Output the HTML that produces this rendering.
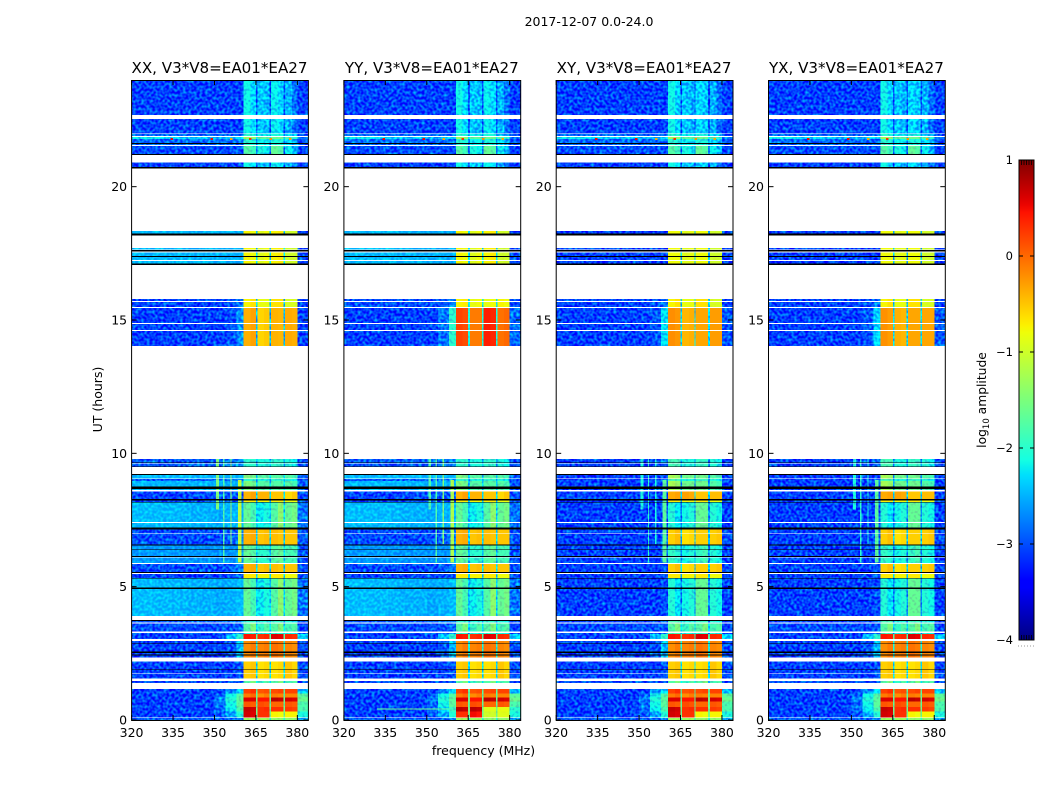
<!DOCTYPE html>
<html lang="en">
<head>
<meta charset="utf-8">
<title>2017-12-07 0.0-24.0</title>
<style>
html,body{margin:0;padding:0;background:#fff;width:1050px;height:800px;overflow:hidden}
svg{display:block}
text{font-family:"DejaVu Sans","Liberation Sans",sans-serif;fill:#000}
</style>
</head>
<body>
<svg id="fig" xmlns="http://www.w3.org/2000/svg" width="1050" height="800" viewBox="0 0 1050 800">
  <defs>
    <filter id="speckle" filterUnits="userSpaceOnUse" x="0" y="0" width="1050" height="800" color-interpolation-filters="sRGB">
      <feTurbulence type="fractalNoise" baseFrequency="0.36" numOctaves="1" seed="7" result="n"/>
      <feColorMatrix in="n" type="matrix" values="0 0 0 0 0  1.5 0 0 0 -0.5  0 0 0 0 0  0 0 0 0 1" result="g"/>
      <feColorMatrix in="SourceGraphic" type="matrix" values="1 0 0 0 0  0 1 -0.25 0 0  0 0 1 0 0  0 0 0 1 0" result="base"/>
      <feColorMatrix in="SourceGraphic" type="matrix" values="0 0 0 0 0  0 0 1 0 0  0 0 0 0 0  0 0 0 0 1" result="mask"/>
      <feComposite in="g" in2="mask" operator="arithmetic" k1="1" k2="0" k3="0" k4="0" result="add"/>
      <feComposite in="base" in2="add" operator="arithmetic" k1="0" k2="1" k3="1" k4="0" result="sum"/>
      <feComposite in="sum" in2="SourceAlpha" operator="in"/>
    </filter>
    <filter id="speckle-soft" filterUnits="userSpaceOnUse" x="0" y="0" width="1050" height="800" color-interpolation-filters="sRGB">
      <feTurbulence type="fractalNoise" baseFrequency="0.36" numOctaves="1" seed="11" result="n"/>
      <feColorMatrix in="n" type="matrix" values="0 0 0 0 0  0.7 0 0 0 -0.25  0 0 0 0 0  0 0 0 0 1" result="g"/>
      <feColorMatrix in="SourceGraphic" type="matrix" values="1 0 0 0 0  0 1 -0.1 0 0  0 0 1 0 0  0 0 0 1 0" result="base"/>
      <feComposite in="base" in2="g" operator="arithmetic" k1="0" k2="1" k3="1" k4="0" result="sum"/>
      <feComposite in="sum" in2="SourceAlpha" operator="in"/>
    </filter>
    <linearGradient id="cb-gradient" x1="0" y1="1" x2="0" y2="0"></linearGradient>
  </defs>
  <rect x="0" y="0" width="1050" height="800" fill="#fff"/>
  <text x="589" y="26" font-size="12.5" text-anchor="middle">2017-12-07 0.0-24.0</text>
  <text x="483.5" y="755" font-size="12.5" text-anchor="middle">frequency (MHz)</text>
  <text transform="translate(102,399.5) rotate(-90)" font-size="12.5" text-anchor="middle">UT (hours)</text>
  <text transform="translate(986,400) rotate(-90)" font-size="12.3" text-anchor="middle">log<tspan font-size="8.5" dy="3">10</tspan><tspan dy="-3"> amplitude</tspan></text>
  <g id="panels"></g>
  <g id="colorbar"></g>
</svg>
<script>
// ---- chart data (log10 amplitude, frequency in MHz, time in UT hours) ----
const freqEdges = [320,330,340,350,354,358,360.5,363,365,365.6,368,370,370.5,373,375,375.6,378,380,384];
const freqTicks = [320,335,350,365,380];
const timeTicks = [0,5,10,15,20];
const colorTicks = [1,0,-1,-2,-3,-4];
const panelTitles = ['XX, V3*V8=EA01*EA27','YY, V3*V8=EA01*EA27','XY, V3*V8=EA01*EA27','YX, V3*V8=EA01*EA27'];

const timeEdges = [24,22.69,22.54,21.99,21.98,21.90,21.87,21.79,21.63,21.60,21.56,21.53,21.23,21.18,20.90,20.73,20.69,
  18.34,18.25,18.16,17.70,17.65,17.63,17.56,17.54,17.40,17.37,17.25,17.21,17.11,17.07,
  15.79,15.71,15.68,15.49,15.45,14.88,14.85,14.63,14.59,14.03,
  9.79,9.66,9.64,9.61,9.51,9.49,9.23,9.19,9.06,9.03,8.97,8.75,8.67,8.63,8.56,8.28,8.24,8.18,8.15,
  7.43,7.39,7.21,7.15,7.00,6.98,6.59,6.55,6.40,6.38,6.15,6.12,6.10,5.89,5.85,5.55,5.51,5.48,5.33,5.30,4.96,4.92,
  3.90,3.75,3.71,3.65,3.61,3.31,3.27,3.22,3.03,2.97,2.87,2.85,2.56,2.52,2.46,2.42,2.35,2.20,1.90,1.88,1.75,1.73,1.55,1.47,1.38,
  1.16,1.00,0.85,0.69,0.48,0.32,0.10,0.07,0];

// spectrum label of each time row; "_" = no data (white), "k" = zeroed (black)
const rowSpectra = ['q','_','q','_','s','_','f','s','k','s','_','p','k','_','q','k','_',
  'c','k','_','c','_','k','_','c','k','c','_','c','k','_',
  'b','_','b','_','o','_','o','_','o','_',
  'v','k','_','v','k','_','k','w','_','v','w','k','w','_','h','k','n','k','u',
  '_','u','k','y','_','y','k','g','k','g','k','_','g','_','y','k','_','n','k','u','k','u',
  '_','k','v','_','m','_','v','r','_','a','k','a','k','a','k','a','_','e','k','e','_','e','_','m','_',
  'z1','z2','z3','z4','z5','z6','_','l'];

// rows whose low-frequency part is a smooth, high-amplitude continuum in the parallel hands
const smoothRows = ['u','w','c','g'];

const xxSpectra = {
  q:[-3.05,-3.05,-3.05,-3.05,-3.05,-3.05,-2.15,-2.3,-2.95,-2.4,-2.45,-3,-2.2,-2.3,-2.95,-2.5,-2.8,-3.1],
  p:[-3,-3,-3,-3,-3,-3,-1.75,-1.9,-2.85,-2.1,-2.2,-2.9,-1.65,-1.75,-2.85,-2.2,-2.5,-3.1],
  s:[-2.85,-2.85,-2.85,-2.85,-2.85,-2.85,-2,-2.1,-2.7,-2.2,-2.2,-2.7,-2.1,-2.1,-2.7,-2.3,-2.5,-3],
  f:[-2.2,-2.3,-2.4,-2.5,-2.4,-2.3,-1.3,-1.4,-2.2,-1.7,-1.7,-2.2,-1.6,-1.6,-2.2,-1.8,-2,-2.8],
  c:[-2.46,-2.46,-2.48,-2.5,-2.52,-2.52,-0.75,-0.8,-2.3,-0.9,-0.8,-2.3,-0.75,-0.7,-2.3,-1,-1,-3],
  b:[-3.05,-3.05,-3.05,-3.05,-3,-2.85,-0.75,-0.65,-2.4,-0.85,-0.85,-2.4,-0.65,-0.65,-2.4,-0.95,-0.95,-3.1],
  o:[-3.1,-3.1,-3.1,-3.1,-3,-2.65,-0.38,-0.3,-2.5,-0.58,-0.52,-2.5,-0.4,-0.42,-2.5,-0.35,-0.38,-3.05],
  v:[-2.95,-2.95,-2.9,-2.85,-2.75,-2.65,-2,-2,-2.6,-2.1,-2.1,-2.6,-2,-2,-2.6,-2.1,-2.2,-3],
  w:[-2.46,-2.46,-2.48,-2.52,-2.52,-2.44,-1.5,-1.6,-2.4,-1.75,-1.75,-2.4,-1.75,-1.75,-2.4,-1.75,-1.85,-2.95],
  h:[-3.05,-3.05,-3,-2.95,-2.95,-2.95,-0.4,-0.3,-2.3,-0.4,-0.4,-2.3,-0.5,-0.5,-2.3,-0.6,-0.5,-3],
  n:[-3.1,-3.1,-3.1,-3.1,-3.1,-2.95,-0.7,-0.7,-2.3,-0.75,-0.75,-2.3,-0.7,-0.7,-2.3,-0.8,-0.8,-3],
  u:[-2.44,-2.46,-2.5,-2.54,-2.5,-2.44,-1.65,-1.85,-2.45,-2.2,-2.1,-2.35,-1.75,-1.4,-2.35,-1.65,-1.55,-2.8],
  y:[-3,-3,-3,-3,-2.9,-2.75,-0.4,-0.35,-2.3,-0.5,-0.45,-2.3,-0.45,-0.5,-2.3,-0.5,-0.5,-2.95],
  g:[-2.62,-2.62,-2.64,-2.66,-2.64,-2.58,-1.65,-1.75,-2.45,-2,-2,-2.45,-1.75,-1.65,-2.45,-1.85,-1.85,-2.95],
  m:[-3,-3,-3,-3,-3,-2.95,-1.75,-1.5,-2.3,-1.95,-1.75,-2.3,-1.75,-1.5,-2.3,-1.85,-1.75,-3.1],
  r:[-3.1,-3.1,-3.1,-3.05,-2.4,-2,0.45,0.4,-1.7,0.3,0.35,-1.7,0.6,0.55,-1.7,0.35,0.3,-2.3],
  a:[-3.2,-3.2,-3.2,-3.1,-2.95,-2.45,-0.2,-0.1,-2.1,-0.15,-0.1,-2.1,-0.05,-0.1,-2.1,-0.15,-0.2,-3],
  e:[-3.1,-3.1,-3.1,-3.1,-3.1,-2.95,-0.55,-0.5,-2.3,-0.65,-0.6,-2.3,-0.65,-0.6,-2.3,-0.5,-0.6,-3],
  z1:[-3.2,-3.2,-3.2,-3.05,-2.7,-2.3,0.2,0.3,-1.7,0.1,0.15,-1.7,0.15,0.2,-1.7,0.2,0.2,-2.4],
  z2:[-3.2,-3.2,-3.2,-2.85,-2.15,-1.75,-0.1,0,-1.75,-0.2,-0.1,-1.75,-0.1,-0.15,-1.75,-0.15,-0.15,-1.7],
  z3:[-3.15,-3.15,-3.15,-2.75,-2.05,-1.7,0.6,0.6,-1.6,0.45,0.45,-1.6,0.75,0.7,-1.6,0.65,0.6,-1.6],
  z4:[-3.15,-3.15,-3.15,-2.85,-2.15,-1.7,0.1,0.05,-1.7,0.15,0.1,-1.7,0,0,-1.7,0.1,0.05,-1.8],
  z5:[-3.15,-3.15,-3.15,-2.8,-2.2,-1.8,0.7,0.65,-1.6,0.3,0.35,-1.6,0.3,0.3,-1.6,0.25,0.2,-1.8],
  z6:[-3.15,-3.15,-3.15,-2.95,-2.55,-2.05,0.65,0.6,-1.6,0.3,0.3,-1.6,-0.75,-0.8,-1.6,-0.75,-0.75,-2.1],
  l:[-2.9,-2.9,-2.9,-2.9,-2.9,-2.75,-1.3,-1.3,-2.1,-1.3,-1.3,-2.1,-1.4,-1.4,-2.1,-1.4,-1.4,-2.6]
};
const yySpectra = Object.assign({}, xxSpectra, {
  o:[-3.1,-3.1,-3.1,-3.05,-2.8,-2,0.2,0.15,-2.1,-0.1,-0.1,-2.1,0.4,0.35,-2.1,-0.05,0,-2.85],
  b:[-3,-3,-3,-3,-2.95,-2.75,-0.75,-0.7,-2.2,-0.85,-0.8,-2.2,-0.85,-0.8,-2.2,-0.75,-0.8,-3],
  z5:[-3.15,-3.15,-3.15,-2.85,-2.3,-1.9,0.75,0.7,-1.6,0.75,0.7,-1.6,-0.9,-0.9,-1.6,-0.85,-0.85,-2],
  z6:[-3.15,-3.15,-3.15,-2.95,-2.55,-2.05,0.3,0.3,-1.6,0.5,0.45,-1.6,-1,-1,-1.6,-0.9,-0.9,-2.1]
});
const xySpectra = Object.assign({}, xxSpectra, {
  q:[-3.15,-3.15,-3.15,-3.15,-3.15,-3.1,-2.15,-2.35,-3,-2.4,-2.5,-3,-2.3,-2.4,-3,-2.5,-2.85,-3.15],
  c:[-3.4,-3.4,-3.4,-3.4,-3.35,-3.2,-0.8,-0.8,-2.5,-0.9,-0.85,-2.5,-0.8,-0.8,-2.5,-1,-1,-3.2],
  o:[-3.2,-3.2,-3.2,-3.15,-2.95,-2.25,-0.2,-0.25,-2.3,-0.42,-0.38,-2.3,-0.33,-0.33,-2.3,-0.28,-0.28,-2.95],
  v:[-3.2,-3.2,-3.2,-3.1,-3,-2.8,-1.85,-1.85,-2.7,-2.1,-2.1,-2.7,-1.95,-1.95,-2.7,-2.05,-2.2,-3.1],
  w:[-3.3,-3.3,-3.3,-3.25,-3.15,-3,-1.25,-1.35,-2.7,-1.6,-1.6,-2.7,-1.6,-1.6,-2.7,-1.75,-1.85,-3.1],
  u:[-3.15,-3.15,-3.15,-3.1,-3.1,-3,-2.05,-2.25,-2.8,-2.15,-2.05,-2.7,-1.65,-1.65,-2.7,-2.05,-2.15,-3.05],
  g:[-3.2,-3.2,-3.2,-3.15,-3.1,-3,-1.95,-2.05,-2.7,-2.15,-2.05,-2.7,-1.95,-1.85,-2.7,-2.05,-2.15,-3.1],
  y:[-3.2,-3.2,-3.2,-3.15,-3.1,-2.95,-0.55,-0.45,-2.4,-0.65,-0.6,-2.4,-0.55,-0.55,-2.4,-0.55,-0.5,-3],
  h:[-3.2,-3.2,-3.2,-3.1,-3.05,-3,-0.35,-0.3,-2.4,-0.3,-0.35,-2.4,-0.5,-0.5,-2.4,-0.45,-0.45,-3.1]
});
const yxSpectra = Object.assign({}, xySpectra, {
  o:[-3.2,-3.2,-3.2,-3.15,-2.95,-2.3,-0.22,-0.28,-2.3,-0.38,-0.42,-2.3,-0.33,-0.33,-2.3,-0.33,-0.33,-2.95]
});
const panelSpectra = [xxSpectra, yySpectra, xySpectra, yxSpectra];

// narrow interference lines: centre MHz, width MHz, UT start, UT end, value per panel
const rfiFreq  = [351.1,353.4,356,359.2];
const rfiWidth = [1.0,0.5,0.5,1.3];
const rfiStart = [7.9,5.9,6.6,5.9];
const rfiEnd   = [9.8,9.8,9.8,9.0];
const xxRfi = [-1.5,-1.8,-1.4,-1.1];
const yyRfi = [-1.8,-1.8,-1.5,-1.2];
const xyRfi = [-2.1,-2.0,-2.1,-1.7];
const yxRfi = [-2.1,-2.0,-2.1,-1.7];
const panelRfi = [xxRfi, yyRfi, xyRfi, yxRfi];

// isolated bright samples
const spikeFreq  = [334,348.5,355.7,362.5,370,377];
const spikeTime  = [21.83,21.83,21.83,21.83,21.83,21.83];
const spikeValue = [0.5,0.5,-0.3,0.3,-0.2,-0.3];

// horizontal line seen in the YY panel: MHz start, MHz end, UT, value
const yyLineStart = [332];
const yyLineEnd   = [358];
const yyLineTime  = [0.43];
const yyLineValue = [-1.6];

// ---- layout and scales ----
const NS = 'http://www.w3.org/2000/svg';
const panelLeft = [131.6,343.9,556.2,768.5];
const panelWidth = 176.8, plotTop = 80, plotBottom = 720;
const fMin = 320, fMax = 384, tMax = 24, cMin = -4, cMax = 1;
const cbX = 1019, cbW = 15, cbTop = 160, cbBottom = 640;

function xScale(i, f){ return panelLeft[i] + (f - fMin) / (fMax - fMin) * panelWidth; }
function yScale(t){ return plotBottom - t / tMax * (plotBottom - plotTop); }
function cbScale(v){ return cbBottom - (v - cMin) / (cMax - cMin) * (cbBottom - cbTop); }

const jetR = [[0,0],[0.35,0],[0.66,1],[0.89,1],[1,0.5]];
const jetG = [[0,0],[0.125,0],[0.375,1],[0.64,1],[0.91,0],[1,0]];
const jetB = [[0,0.5],[0.11,1],[0.34,1],[0.65,0],[1,0]];
function channel(stops, x){
  for (let i = 1; i < stops.length; i++) {
    if (x <= stops[i][0]) {
      const a = stops[i-1], b = stops[i];
      return a[1] + (b[1] - a[1]) * (x - a[0]) / (b[0] - a[0]);
    }
  }
  return stops[stops.length-1][1];
}
function colorOf(v){
  const x = Math.max(0, Math.min(1, (v - cMin) / (cMax - cMin)));
  return 'rgb(' + Math.round(channel(jetR,x)*255) + ',' + Math.round(channel(jetG,x)*255) + ',' + Math.round(channel(jetB,x)*255) + ')';
}
function make(tag, attrs, parent){
  const el = document.createElementNS(NS, tag);
  for (const k in attrs) el.setAttribute(k, attrs[k]);
  parent.appendChild(el);
  return el;
}
function fmt(v){ return v < 0 ? '\u2212' + Math.abs(v) : String(v); }

// ---- panels ----
const panelsRoot = document.getElementById('panels');
panelTitles.forEach(function(title, p){
  const tag = title.slice(0,2).toLowerCase();
  const g = make('g', {}, panelsRoot);
  
  

  const smooth = make('g', {filter:'url(#speckle-soft)', 'shape-rendering':'crispEdges'}, g);
  
  
  const heat = make('g', {filter:'url(#speckle)', 'shape-rendering':'crispEdges'}, g);
  
  
  const zeroed = make('g', {'shape-rendering':'crispEdges'}, g);
  
  

  const spectra = panelSpectra[p];
  rowSpectra.forEach(function(code, r){
    if (code === '_') return;
    const y0 = yScale(timeEdges[r]), y1 = yScale(timeEdges[r+1]);
    if (code === 'k') {
      const bar = make('rect', {x:panelLeft[p], y:y0, width:panelWidth, height:y1-y0, fill:'#000'}, zeroed);
      
      
      return;
    }
    const values = spectra[code];
    values.forEach(function(v, b){
      const x0 = xScale(p, freqEdges[b]), x1 = xScale(p, freqEdges[b+1]);
      const isSmooth = p < 2 && b < 6 && smoothRows.indexOf(code) >= 0;
      const cell = make('rect', {x:x0, y:y0, width:x1-x0, height:y1-y0, fill:colorOf(v)}, isSmooth ? smooth : heat);
      
      
    });
    rfiFreq.forEach(function(f, k){
      const hi = Math.min(rfiEnd[k], timeEdges[r]), lo = Math.max(rfiStart[k], timeEdges[r+1]);
      if (hi <= lo) return;
      const line = make('rect', {x:xScale(p, f - rfiWidth[k]/2), y:yScale(hi), width:Math.max(1, xScale(p, f + rfiWidth[k]/2) - xScale(p, f - rfiWidth[k]/2)), height:yScale(lo)-yScale(hi), fill:colorOf(panelRfi[p][k])}, heat);
      
      
    });
  });
  spikeFreq.forEach(function(f, k){
    const spike = make('rect', {x:xScale(p, f), y:yScale(spikeTime[k]), width:2.5, height:2, fill:colorOf(spikeValue[k])}, heat);
    
    
  });
  if (p === 1) {
    yyLineStart.forEach(function(f, k){
      const hl = make('rect', {x:xScale(p, f), y:yScale(yyLineTime[k]), width:xScale(p, yyLineEnd[k])-xScale(p, f), height:1, fill:colorOf(yyLineValue[k])}, heat);
      
      
    });
  }

  const frame = make('rect', {x:panelLeft[p], y:plotTop+0.5, width:panelWidth, height:plotBottom-plotTop, fill:'none', stroke:'#000', 'stroke-width':1}, g);
  
  

  const t = make('text', {x:panelLeft[p]+panelWidth/2-0.5, y:73, 'font-size':15.1, 'text-anchor':'middle'}, g);
  
  
  t.textContent = title;

  freqTicks.forEach(function(f){
    const x = xScale(p, f);
    const tb = make('line', {x1:x, x2:x, y1:plotBottom, y2:plotBottom-5, stroke:'#000', 'stroke-width':1}, g);
    
    
    const tt = make('line', {x1:x, x2:x, y1:plotTop, y2:plotTop+5, stroke:'#000', 'stroke-width':1}, g);
    
    
    const lab = make('text', {x:x, y:737, 'font-size':12.5, 'text-anchor':'middle'}, g);
    
    
    lab.textContent = f;
  });
  timeTicks.forEach(function(v){
    const y = yScale(v);
    const tl = make('line', {x1:panelLeft[p], x2:panelLeft[p]+5, y1:y, y2:y, stroke:'#000', 'stroke-width':1}, g);
    
    
    const tr = make('line', {x1:panelLeft[p]+panelWidth, x2:panelLeft[p]+panelWidth-5, y1:y, y2:y, stroke:'#000', 'stroke-width':1}, g);
    
    
    const lab = make('text', {x:panelLeft[p]-4.5, y:y+4.5, 'font-size':12.5, 'text-anchor':'end'}, g);
    
    
    lab.textContent = v;
  });
});

// ---- colorbar ----
const grad = document.getElementById('cb-gradient');
for (let i = 0; i <= 64; i++) {
  const v = cMin + (cMax - cMin) * i / 64;
  make('stop', {offset:(i/64), 'stop-color':colorOf(v)}, grad);
}
const cb = document.getElementById('colorbar');
const cbRect = make('rect', {x:cbX, y:cbTop, width:cbW, height:cbBottom-cbTop, fill:'url(#cb-gradient)', stroke:'#000', 'stroke-width':1}, cb);


colorTicks.forEach(function(v){
  const y = cbScale(v);
  const a = make('line', {x1:cbX, x2:cbX+4, y1:y, y2:y, stroke:'#000', 'stroke-width':1}, cb);
  
  
  const b = make('line', {x1:cbX+cbW, x2:cbX+cbW-4, y1:y, y2:y, stroke:'#000', 'stroke-width':1}, cb);
  
  
  const lab = make('text', {x:1013, y:y+4, 'font-size':11.5, 'text-anchor':'end'}, cb);
  
  
  lab.textContent = fmt(v);
});
[2.5,5,7.5,10,12.5].forEach(function(dx){
  const a = make('line', {x1:cbX+dx, x2:cbX+dx, y1:cbTop, y2:cbTop+5, stroke:'#000', 'stroke-width':0.8}, cb);
  
  
  const b = make('line', {x1:cbX+dx, x2:cbX+dx, y1:cbBottom, y2:cbBottom-5, stroke:'#000', 'stroke-width':0.8}, cb);
  
  
});
const dots = make('line', {x1:1018, x2:1035, y1:646, y2:646, stroke:'#999', 'stroke-width':1, 'stroke-dasharray':'1 2'}, cb);


</script>
</body>
</html>
